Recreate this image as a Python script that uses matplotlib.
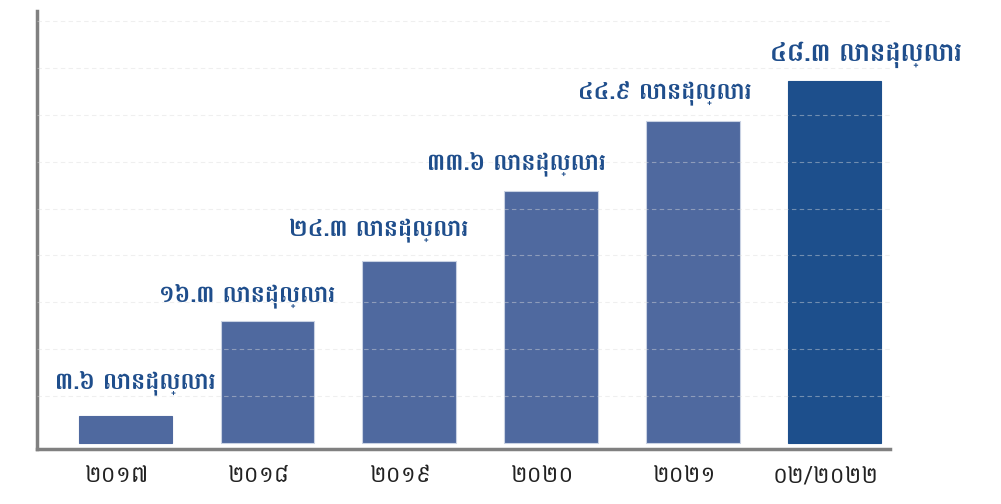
import matplotlib
matplotlib.use("Agg")
import matplotlib.pyplot as plt
from matplotlib.transforms import ScaledTranslation


# ------
# DATA
# ------
years = ["២០១៧", "២០១៨", "២០១៩", "២០២០", "២០២១", "០២/២០២២"]
values = [3.6, 16.3, 24.3, 33.6, 42.9, 48.3]
value_labels = ["៣.៦", "១៦.៣", "២៤.៣", "៣៣.៦", "៤៤.៩", "៤៨.៣"]
unit = "លានដុល្លារ"
grid_ticks = [6.25, 12.5, 18.75, 25, 31.25, 37.5, 43.75, 50, 56.25]

# label placement (pixels from top of bar)
label_dx = [10, -20, -30, -35, -28, 31]
label_dy = [33, 25, 30, 27, 29, 26]
label_size = [17, 17, 17, 17, 17, 18.5]

plt.rcParams["font.family"] = ["Battambang", "DejaVu Sans"]


# ------
# CHART
# ------
fig = plt.figure(figsize=(10.01, 5.04), dpi=100)
ax = fig.add_axes([37 / 1001, 55 / 504, (890 - 37) / 1001, (449 - 11) / 504])

x = list(range(len(years)))
colors = ["#4f699f"] * 5 + ["#1d4f8c"]
edges = ["#4f699f"] + ["#c9d2e3"] * 4 + ["#1d4f8c"]
ax.bar(x, values, width=0.66, color=colors, edgecolor=edges, linewidth=0.8, zorder=2)

for gy in grid_ticks:
    ax.axhline(gy, color="#dcdcdc", linestyle=(0, (4, 3)), linewidth=0.8, alpha=0.45, zorder=3)

for i, (xi, v, lab) in enumerate(zip(x, values, value_labels)):
    ax.annotate(f"{lab} {unit}", (xi, v), xytext=(label_dx[i], label_dy[i]), textcoords="offset pixels",
                ha="center", va="center", fontsize=label_size[i], fontweight="bold", color="#1f4e8c")

ax.set_xlim(-0.624, 5.39)
ax.set_ylim(-0.8, 57.6)
ax.set_xticks(x)
ax.set_xticklabels(years, fontsize=16.5, color="#222222")
ax.set_yticks([])
ax.tick_params(axis="x", length=0, pad=11)

shift = ScaledTranslation(-9 / 100, 0, fig.dpi_scale_trans)
for tick in ax.get_xticklabels():
    tick.set_transform(tick.get_transform() + shift)

for side in ["top", "right"]:
    ax.spines[side].set_visible(False)
for side in ["left", "bottom"]:
    ax.spines[side].set_color("#808080")
    ax.spines[side].set_linewidth(2.5)

fig.savefig("out.png", dpi=100)
